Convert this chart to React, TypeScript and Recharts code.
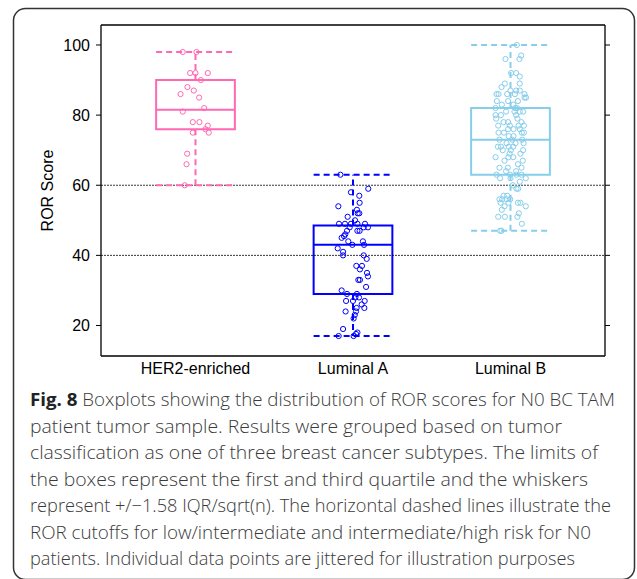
import React from "react";
import { ComposedChart, XAxis, YAxis, Scatter, ReferenceLine, ReferenceArea } from "recharts";

const categories = ["HER2-enriched", "Luminal A", "Luminal B"];
const colors = ["#FF69B4", "#0000FF", "#87CEEB"];
const yTicks = [20, 40, 60, 80, 100];
const yDomain = [11.3, 105.7];
const xDomain = [0.4, 3.6];
const cutoffs = [40, 60];

// [whiskerLow, q1, median, q3, whiskerHigh]
const her2Stats = [60, 76, 81.5, 90, 98];
const lumAStats = [17, 29, 43, 48.5, 63];
const lumBStats = [47, 63, 73, 82, 100];

// [jitter offset, ROR score]
const her2Points = [
  [-0.081, 98], [0.006, 98], [-0.034, 92], [0, 92], [0.078, 92], [0.034, 90], [-0.051, 88],
  [-0.011, 87], [-0.095, 86], [0.023, 85], [0.055, 82], [-0.081, 81], [-0.017, 78], [0.025, 78],
  [0.078, 77], [0.063, 76], [-0.017, 75], [0.084, 75], [-0.053, 69], [-0.057, 66], [-0.068, 60],
];

const lumAPoints = [
  [-0.08, 63], [0.097, 59], [-0.013, 58], [0.04, 57], [0.042, 55], [-0.093, 54], [0.025, 53],
  [0.03, 52], [0.04, 52], [-0.034, 51], [0.013, 50], [-0.089, 49], [-0.051, 49], [-0.013, 49],
  [0.028, 49], [0.076, 49], [0.095, 48], [0.068, 48], [-0.021, 48], [0.042, 47], [0.028, 47],
  [-0.038, 47], [-0.049, 46], [-0.057, 45.5], [-0.072, 45], [-0.03, 44], [0.063, 44], [-0.004, 43],
  [0.07, 43], [-0.097, 42], [-0.063, 41], [-0.063, 40], [0.068, 40], [0.087, 39], [0.021, 37],
  [0.057, 37], [0.044, 36], [0.089, 35], [0.095, 34], [0.034, 33], [0.044, 33], [0.083, 31],
  [-0.072, 30], [-0.038, 29], [0.025, 29], [0.015, 28], [0.038, 28], [0, 27], [-0.044, 27],
  [0.074, 27], [0.055, 26], [0.023, 25], [0.072, 25], [0.019, 24], [-0.047, 24], [0.011, 23],
  [0.004, 22], [-0.063, 19], [0.028, 18], [-0.091, 17], [0.004, 17], [0.019, 17.6],
];

const lumBPoints = [
  [0.04, 100], [0.068, 97], [0.057, 96], [-0.032, 96], [0.004, 92], [0.036, 92], [0.059, 91],
  [-0.036, 89], [0.059, 89], [-0.057, 88], [0, 87], [0.036, 87], [0.059, 87], [-0.089, 86],
  [-0.076, 86], [-0.021, 86], [0.028, 86], [0.089, 86], [0.089, 85], [0.099, 85], [0.047, 84],
  [-0.087, 84], [-0.015, 84], [-0.055, 83], [0.017, 83], [-0.095, 82], [0.03, 82], [0.042, 82],
  [-0.028, 81], [0.059, 81], [0.08, 81], [0.025, 81], [-0.095, 80], [-0.061, 80], [0.036, 80],
  [-0.091, 79], [0.044, 79], [-0.044, 78], [-0.015, 78], [0.07, 78], [-0.078, 77], [-0.004, 77],
  [0.051, 77], [0.085, 77], [-0.015, 76], [0.019, 76], [0.059, 76], [-0.076, 75], [-0.042, 75],
  [0.072, 75], [0.085, 75], [-0.011, 74], [0.019, 74], [-0.07, 73], [0.011, 73], [0.074, 73],
  [-0.025, 72], [0.032, 72], [0.083, 72], [-0.08, 71], [-0.061, 71], [-0.011, 71], [0.017, 71],
  [0.08, 70], [-0.049, 70], [0.002, 70], [-0.006, 69], [0.063, 69], [-0.095, 68], [-0.013, 68],
  [0.017, 68], [0.078, 67], [-0.038, 67], [0.047, 66], [-0.07, 65], [-0.017, 65], [0.07, 65],
  [-0.028, 64], [0.036, 64], [-0.089, 63], [-0.002, 63], [0.038, 63], [0.07, 63], [-0.066, 62],
  [0, 62], [0.097, 62], [0.059, 61], [0.015, 60], [0.049, 59], [0.038, 59], [-0.044, 57],
  [-0.021, 57], [-0.07, 56], [-0.053, 56], [-0.025, 56], [-0.002, 56], [-0.063, 55], [-0.013, 55],
  [0.047, 55], [0.063, 55], [-0.038, 54], [0.097, 54], [-0.055, 53], [0.053, 52], [0.044, 51],
  [-0.078, 51], [-0.036, 51], [0.072, 49], [-0.066, 47], [-0.057, 47],
];

const captionLines = [
  " Boxplots showing the distribution of ROR scores for N0 BC TAM",
  "patient tumor sample. Results were grouped based on tumor",
  "classification as one of three breast cancer subtypes. The limits of",
  "the boxes represent the first and third quartile and the whiskers",
  "represent +/\u22121.58 IQR/sqrt(n). The horizontal dashed lines illustrate the",
  "ROR cutoffs for low/intermediate and intermediate/high risk for N0",
  "patients. Individual data points are jittered for illustration purposes",
];
const captionEnds = [615, 562, 598, 588, 611, 591, 575];

const groups = [
  { stats: her2Stats, points: her2Points },
  { stats: lumAStats, points: lumAPoints },
  { stats: lumBStats, points: lumBPoints },
];

const HALF = 0.25;
const chartFont = "'Liberation Sans', Arial, Helvetica, sans-serif";

export default function App() {
  return (
    <div style={{ position: "absolute", left: 0, top: 0, width: 637, height: 579, background: "#fff" }}>
      <ComposedChart width={637} height={579} margin={{ top: 25, right: 22, bottom: 193, left: 41 }}>
        <XAxis
          type="number"
          dataKey="x"
          domain={xDomain}
          ticks={[1, 2, 3]}
          tickFormatter={(v: number) => categories[Math.round(v) - 1]}
          allowDataOverflow
          tickLine={false}
          tickSize={0}
          tickMargin={7}
          height={30}
          axisLine={{ stroke: "#000", strokeWidth: 1.3 }}
          tick={{ fill: "#000", fontSize: 16, fontFamily: chartFont }}
        />
        <YAxis
          type="number"
          dataKey="y"
          domain={yDomain}
          ticks={yTicks}
          allowDataOverflow
          width={60}
          tickSize={5}
          tickMargin={6}
          axisLine={{ stroke: "#000", strokeWidth: 1.3 }}
          tickLine={{ stroke: "#000", strokeWidth: 1 }}
          tick={{ fill: "#000", fontSize: 16, fontFamily: chartFont }}
          label={{ value: "ROR Score", angle: -90, position: "insideLeft", dx: 1, dy: 0, style: { fill: "#000", fontSize: 16, fontFamily: chartFont, textAnchor: "middle" } }}
        />
        <YAxis
          yAxisId="r"
          orientation="right"
          type="number"
          domain={yDomain}
          ticks={yTicks}
          allowDataOverflow
          width={10}
          tickSize={5}
          tickFormatter={() => ""}
          axisLine={{ stroke: "#000", strokeWidth: 1.3 }}
          tickLine={{ stroke: "#000", strokeWidth: 1 }}
        />
        <ReferenceLine y={yDomain[1]} stroke="#000" strokeWidth={1.3} />
        {cutoffs.map((c) => (
          <ReferenceLine key={"cut" + c} y={c} stroke="#000" strokeWidth={0.8} strokeDasharray="2 1" />
        ))}
        {groups.map((g, i) => {
          const cx = i + 1;
          const [wl, q1, med, q3, wh] = g.stats;
          const col = colors[i];
          return (
            <React.Fragment key={"box" + i}>
              <ReferenceArea x1={cx - HALF} x2={cx + HALF} y1={q1} y2={q3} fill="none" fillOpacity={0} stroke={col} strokeWidth={2} strokeOpacity={1} />
              <ReferenceLine segment={[{ x: cx - HALF, y: med }, { x: cx + HALF, y: med }]} stroke={col} strokeWidth={2} />
              <ReferenceLine segment={[{ x: cx, y: q3 }, { x: cx, y: wh }]} stroke={col} strokeWidth={2} strokeDasharray="6 4" />
              <ReferenceLine segment={[{ x: cx, y: q1 }, { x: cx, y: wl }]} stroke={col} strokeWidth={2} strokeDasharray="6 4" />
              <ReferenceLine segment={[{ x: cx - HALF, y: wh }, { x: cx + HALF, y: wh }]} stroke={col} strokeWidth={2} strokeDasharray="6 4" />
              <ReferenceLine segment={[{ x: cx - HALF, y: wl }, { x: cx + HALF, y: wl }]} stroke={col} strokeWidth={2} strokeDasharray="6 4" />
            </React.Fragment>
          );
        })}
        {groups.map((g, i) => (
          <Scatter
            key={"pts" + i}
            data={g.points.map(([o, v]) => ({ x: i + 1 + o, y: v }))}
            isAnimationActive={false}
            shape={(p: any) => (
              <circle cx={p.cx} cy={p.cy} r={2.6} fill="none" stroke={colors[i]} strokeWidth={1} />
            )}
          />
        ))}
      </ComposedChart>
      <svg width={637} height={579} style={{ position: "absolute", left: 0, top: 0, pointerEvents: "none" }}>
        <rect x={13.5} y={8.5} width={621} height={571} rx={12} ry={12} fill="none" stroke="#333" strokeWidth={1.5} />
        {captionLines.map((line, i) => (
          <text
            key={i}
            x={30}
            y={406 + i * 26.5}
            textLength={captionEnds[i] - 30}
            lengthAdjust="spacingAndGlyphs"
            fill="#3a3a3a"
            fontSize={17.5}
            fontWeight={300}
            fontFamily="'Open Sans', Lato, sans-serif"
          >
            {i === 0 ? <tspan fontWeight={700} fill="#222">Fig. 8</tspan> : null}
            {i === 0 ? <tspan>{line}</tspan> : line}
          </text>
        ))}
      </svg>
    </div>
  );
}
